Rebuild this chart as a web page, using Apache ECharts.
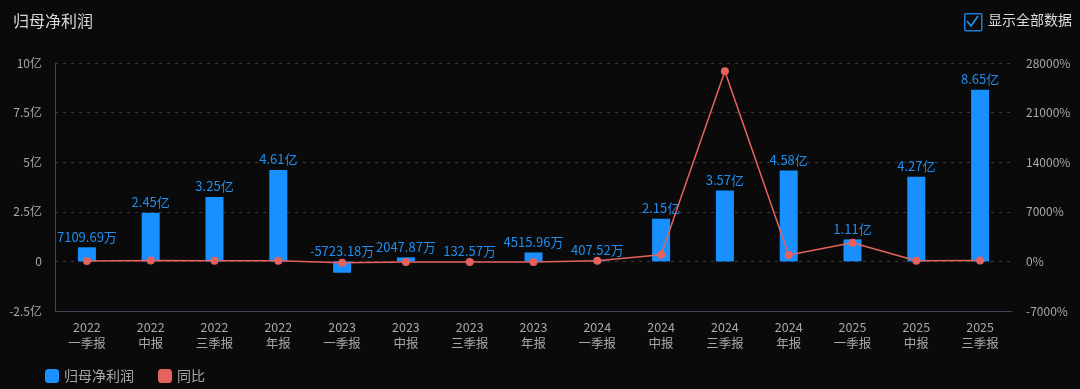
<!DOCTYPE html>
<html><head><meta charset="utf-8">
<script src="https://cdn.jsdelivr.net/npm/echarts@6/dist/echarts.min.js"></script>
<style>html,body{margin:0;padding:0;background:#0a0a0a;}#c{width:1080px;height:389px;}</style>
</head><body><div id="c"></div>
<script>
const categories = ['2022\n一季报','2022\n中报','2022\n三季报','2022\n年报','2023\n一季报','2023\n中报','2023\n三季报','2023\n年报','2024\n一季报','2024\n中报','2024\n三季报','2024\n年报','2025\n一季报','2025\n中报','2025\n三季报'];
// 归母净利润, unit: 亿
const profit = [0.710969, 2.45, 3.25, 4.61, -0.572318, 0.204787, 0.013257, 0.451596, 0.040752, 2.15, 3.57, 4.58, 1.11, 4.27, 8.65];
// 同比, unit: %
const yoy = [60, 110, 95, 80, -180.5, -91.6, -99.6, -90.2, 107.1, 949.9, 26829, 914.2, 2623.8, 98.6, 142.3];
const leftTicks = {min: -2.5, max: 10, interval: 2.5};
const rightTicks = {min: -7000, max: 28000, interval: 7000};

const font = "'Noto Sans CJK SC','Noto Sans',sans-serif";
const chart = echarts.init(document.getElementById('c'));
function fmtProfit(v){
  if (Math.abs(v) >= 1) return v.toFixed(2) + '亿';
  return (v * 10000).toFixed(2) + '万';
}
chart.setOption({
  backgroundColor: '#0a0a0a',
  textStyle: {fontFamily: font},
  title: {text: '归母净利润', left: 8, top: 8, textStyle: {color: '#d8d8d8', fontSize: 16, fontWeight: 'normal', fontFamily: font}},
  legend: {
    left: 40, bottom: 1, itemWidth: 14, itemHeight: 14, itemGap: 24, icon: 'roundRect',
    textStyle: {color: '#a8a8a8', fontSize: 14, fontFamily: font},
    data: ['归母净利润', '同比']
  },
  grid: {left: 55, right: 68, top: 63, bottom: 78},
  xAxis: {
    type: 'category', data: categories,
    axisLine: {onZero: false, lineStyle: {color: '#3a4656'}},
    axisTick: {show: false},
    axisLabel: {color: '#a8a8a8', fontSize: 12.5, lineHeight: 16, margin: 8, interval: 0, fontFamily: font}
  },
  yAxis: [{
    type: 'value', min: leftTicks.min, max: leftTicks.max, interval: leftTicks.interval,
    axisLine: {show: true, lineStyle: {color: '#3a4656'}},
    axisTick: {show: false},
    splitLine: {lineStyle: {color: '#3a3a3a', type: [3, 5]}},
    axisLabel: {color: '#a8a8a8', fontSize: 12, margin: 13, fontFamily: font, formatter: v => v === 0 ? '0' : v + '亿'}
  }, {
    type: 'value', min: rightTicks.min, max: rightTicks.max, interval: rightTicks.interval,
    axisLine: {show: false}, axisTick: {show: false}, splitLine: {show: false},
    axisLabel: {color: '#a8a8a8', fontSize: 12, margin: 14, fontFamily: font, formatter: v => v + '%'}
  }],
  series: [{
    name: '归母净利润', type: 'bar', data: profit, barWidth: 18,
    itemStyle: {color: '#1890ff'},
    label: {show: true, position: 'top', color: '#1e8ff0', fontSize: 13, distance: 4, fontFamily: font,
      formatter: p => fmtProfit(p.value)}
  }, {
    name: '同比', type: 'line', yAxisIndex: 1, data: yoy,
    symbol: 'circle', symbolSize: 8,
    itemStyle: {color: '#e5635e'}, lineStyle: {color: '#e5635e', width: 1.5}, z: 5
  }],
  graphic: [
    {type: 'rect', left: 964, top: 13, shape: {width: 17, height: 17, r: 1}, style: {fill: 'transparent', stroke: '#1a7fd4', lineWidth: 1.5}},
    {type: 'polyline', shape: {points: [[967, 21], [971, 26], [978, 16]]}, style: {stroke: '#1a8fe8', lineWidth: 1.8, fill: 'none'}},
    {type: 'text', left: 988, top: 13, style: {text: '显示全部数据', fill: '#dcdcdc', fontSize: 14, fontFamily: font}}
  ]
});
</script></body></html>
